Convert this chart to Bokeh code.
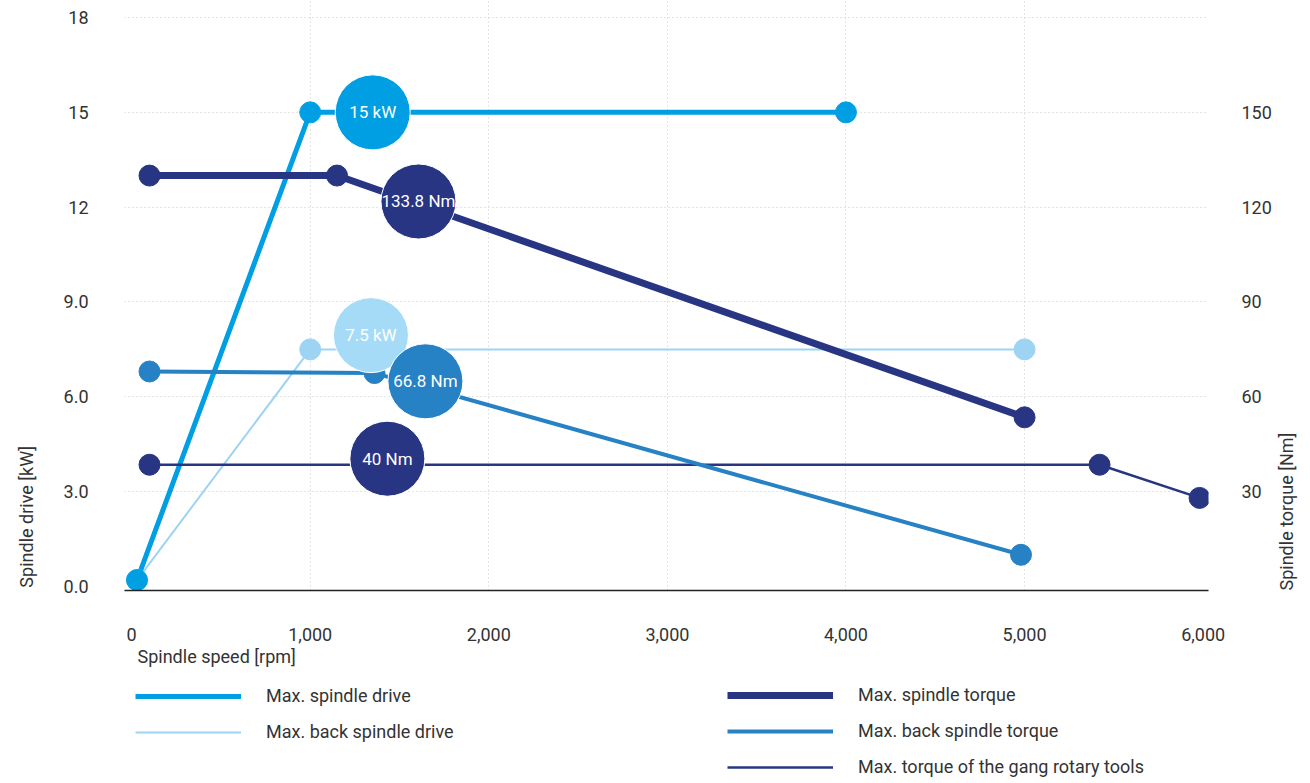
import math
from bokeh.plotting import figure
from bokeh.layouts import column
from bokeh.models import Range1d, LinearAxis, FixedTicker, Legend, LegendItem, Title, ColumnDataSource
from bokeh.core.properties import value
from bokeh.embed import file_html
from bokeh.resources import INLINE

FONT = "Roboto"

# ---- data ----
speed_drive = [30, 1000, 4000]
kw_drive = [0.2, 15, 15]

speed_back_drive = [30, 1000, 5000]
kw_back_drive = [0.2, 7.5, 7.5]

speed_torque = [100, 1150, 5000]
nm_torque = [130, 130, 53.5]

speed_back_torque = [100, 1360, 4980]
nm_back_torque = [68, 67.5, 10]

speed_gang = [100, 5420, 5980]
nm_gang = [38.5, 38.5, 28]

kw_bubble_x = [1350, 1340]
kw_bubble_y = [15, 7.95]
kw_bubble_text = ["15 kW", "7.5 kW"]
kw_bubble_color = ["#009fe3", "#a5dbf7"]

nm_bubble_x = [1606, 1645, 1432]
nm_bubble_y = [121.8, 64.9, 40.4]
nm_bubble_text = ["133.8 Nm", "66.8 Nm", "40 Nm"]
nm_bubble_color = ["#283583", "#2781c5", "#283583"]

x_ticks = [0, 1000, 2000, 3000, 4000, 5000, 6000]
x_tick_labels = ["0", "1,000", "2,000", "3,000", "4,000", "5,000", "6,000"]
kw_ticks = [0, 3, 6, 9, 12, 15, 18]
kw_tick_labels = ["0.0", "3.0", "6.0", "9.0", "12", "15", "18"]
nm_ticks = [30, 60, 90, 120, 150]

legend_left = ["Max. spindle drive", "Max. back spindle drive"]
legend_right = ["Max. spindle torque", "Max. back spindle torque", "Max. torque of the gang rotary tools"]

C_DRIVE = "#009fe3"
C_BACK_DRIVE = "#9dd4f3"
C_TORQUE = "#283583"
C_BACK_TORQUE = "#2781c5"
C_GANG = "#283583"
TXT = "#333333"

W_DRIVE, W_BACK_DRIVE, W_TORQUE, W_BACK_TORQUE, W_GANG = 5, 2, 7, 4, 2.5

p = figure(width=1310, height=672, title=None,
           x_range=Range1d(-40, 6030), y_range=Range1d(-0.13, 18.54),
           output_backend="svg", toolbar_location=None,
           min_border_left=124, min_border_right=96,
           min_border_top=0, min_border_bottom=82)
p.extra_y_ranges = {"torque": Range1d(-1.3, 185.4)}
p.outline_line_color = None
p.background_fill_color = "white"


def has(obj, name):
    return name in obj.properties()


# axes
xa = p.xaxis[0]
xa.ticker = FixedTicker(ticks=x_ticks)
xa.major_label_overrides = {t: l for t, l in zip(x_ticks, x_tick_labels)}
xa.major_tick_line_color = None
xa.minor_tick_line_color = None
xa.axis_line_color = "#222222"
xa.axis_line_width = 1.5
xa.major_label_standoff = 31
xa.major_label_text_font = FONT
xa.major_label_text_font_size = "18px"
xa.major_label_text_color = TXT

ya = p.yaxis[0]
ya.ticker = FixedTicker(ticks=kw_ticks)
ya.major_label_overrides = {t: l for t, l in zip(kw_ticks, kw_tick_labels)}
ya.major_tick_line_color = None
ya.minor_tick_line_color = None
ya.axis_line_color = None
ya.major_label_standoff = 30
ya.major_label_text_font = FONT
ya.major_label_text_font_size = "18px"
ya.major_label_text_color = TXT
# the label is centred on the axis start; leading no-break spaces lift the words above it
ya.axis_label = "\u00a0" * 33 + "Spindle drive [kW]"
ya.axis_label_standoff = 24
ya.axis_label_text_font = FONT
ya.axis_label_text_font_size = "18px"
ya.axis_label_text_font_style = "normal"
ya.axis_label_text_color = TXT

ra = LinearAxis(y_range_name="torque", ticker=FixedTicker(ticks=nm_ticks))
ra.major_tick_line_color = None
ra.minor_tick_line_color = None
ra.axis_line_color = None
ra.major_label_standoff = 27
ra.major_label_text_font = FONT
ra.major_label_text_font_size = "18px"
ra.major_label_text_color = TXT
ra.axis_label = "Spindle torque [Nm]"
ra.axis_label_standoff = 12
ra.axis_label_text_font = FONT
ra.axis_label_text_font_size = "18px"
ra.axis_label_text_font_style = "normal"
ra.axis_label_text_color = TXT
p.add_layout(ra, "right")

if has(ya, "axis_label_align"):
    ya.axis_label_align = "start"
    ra.axis_label_align = "start"
if has(ra, "axis_label_orientation"):
    ra.axis_label_orientation = math.pi / 2

# x-axis title (left aligned under the axis)
p.add_layout(Title(text="Spindle speed [rpm]", align="left", offset=13, standoff=0,
                   text_font=FONT, text_font_size="18px", text_font_style="normal",
                   text_color=TXT), "below")

# grids
p.xgrid.ticker = FixedTicker(ticks=[1000, 2000, 3000, 4000, 5000])
p.xgrid.grid_line_color = "#c8c8c8"
p.xgrid.grid_line_dash = "1 3"
p.xgrid.grid_line_width = 1
p.ygrid.ticker = FixedTicker(ticks=[3, 6, 9, 12, 15, 18])
p.ygrid.grid_line_color = "#c8c8c8"
p.ygrid.grid_line_dash = "1 3"
p.ygrid.grid_line_width = 1

# lines
p.line(speed_back_drive, kw_back_drive, line_color=C_BACK_DRIVE, line_width=W_BACK_DRIVE)
p.line(speed_drive, kw_drive, line_color=C_DRIVE, line_width=W_DRIVE)
p.line(speed_gang, nm_gang, y_range_name="torque", line_color=C_GANG, line_width=W_GANG)
p.line(speed_back_torque, nm_back_torque, y_range_name="torque", line_color=C_BACK_TORQUE, line_width=W_BACK_TORQUE)
p.line(speed_torque, nm_torque, y_range_name="torque", line_color=C_TORQUE, line_width=W_TORQUE)

# dots
p.scatter(speed_back_drive, kw_back_drive, size=21, color=C_BACK_DRIVE)
p.scatter(speed_drive, kw_drive, size=21, color=C_DRIVE)
p.scatter(speed_gang, nm_gang, y_range_name="torque", size=21, color=C_GANG)
p.scatter(speed_back_torque, nm_back_torque, y_range_name="torque", size=21, color=C_BACK_TORQUE)
p.scatter(speed_torque, nm_torque, y_range_name="torque", size=21, color=C_TORQUE)

# bubbles
kw_src = ColumnDataSource(dict(x=kw_bubble_x, y=kw_bubble_y, t=kw_bubble_text, c=kw_bubble_color))
nm_src = ColumnDataSource(dict(x=nm_bubble_x, y=nm_bubble_y, t=nm_bubble_text, c=nm_bubble_color))
p.scatter("x", "y", source=kw_src, size=75, fill_color="c", line_color="white", line_width=1)
p.scatter("x", "y", source=nm_src, y_range_name="torque", size=75, fill_color="c", line_color="white", line_width=1)
p.text("x", "y", text="t", source=kw_src, text_color="white", text_align="center",
       text_baseline="middle", text_font=value(FONT), text_font_size="17px")
p.text("x", "y", text="t", source=nm_src, y_range_name="torque", text_color="white", text_align="center",
       text_baseline="middle", text_font=value(FONT), text_font_size="17px")

# ---- legend strip below the chart ----
lg = figure(width=1310, height=111, title=None, output_backend="svg", toolbar_location=None,
            x_range=Range1d(0, 1), y_range=Range1d(0, 1),
            min_border=0, min_border_left=0, min_border_right=0, min_border_top=0, min_border_bottom=0)
lg.axis.visible = False
lg.grid.visible = False
lg.outline_line_color = None

# legend-only renderers: their points lie outside the strip's visible range
off_x, off_y = [2, 3], [2, 2]
l_drive = lg.line(off_x, off_y, line_color=C_DRIVE, line_width=W_DRIVE)
l_back_drive = lg.line(off_x, off_y, line_color=C_BACK_DRIVE, line_width=W_BACK_DRIVE)
l_torque = lg.line(off_x, off_y, line_color=C_TORQUE, line_width=W_TORQUE)
l_back_torque = lg.line(off_x, off_y, line_color=C_BACK_TORQUE, line_width=W_BACK_TORQUE)
l_gang = lg.line(off_x, off_y, line_color=C_GANG, line_width=W_GANG)

leg_style = dict(orientation="vertical", glyph_width=106, glyph_height=20, label_height=20,
                 label_standoff=25, spacing=15, padding=0, margin=0,
                 border_line_color=None, background_fill_alpha=0,
                 label_text_font=FONT, label_text_font_size="18px", label_text_color=TXT)
leg1 = Legend(items=[LegendItem(label=legend_left[0], renderers=[l_drive]),
                     LegendItem(label=legend_left[1], renderers=[l_back_drive])],
              location=(11, 41), **leg_style)
leg2 = Legend(items=[LegendItem(label=legend_right[0], renderers=[l_torque]),
                     LegendItem(label=legend_right[1], renderers=[l_back_torque]),
                     LegendItem(label=legend_right[2], renderers=[l_gang])],
              location=(603, 6), **leg_style)
lg.add_layout(leg1)
lg.add_layout(leg2)

layout = column(p, lg, spacing=0)
open("out.html", "w").write(file_html(layout, INLINE))
